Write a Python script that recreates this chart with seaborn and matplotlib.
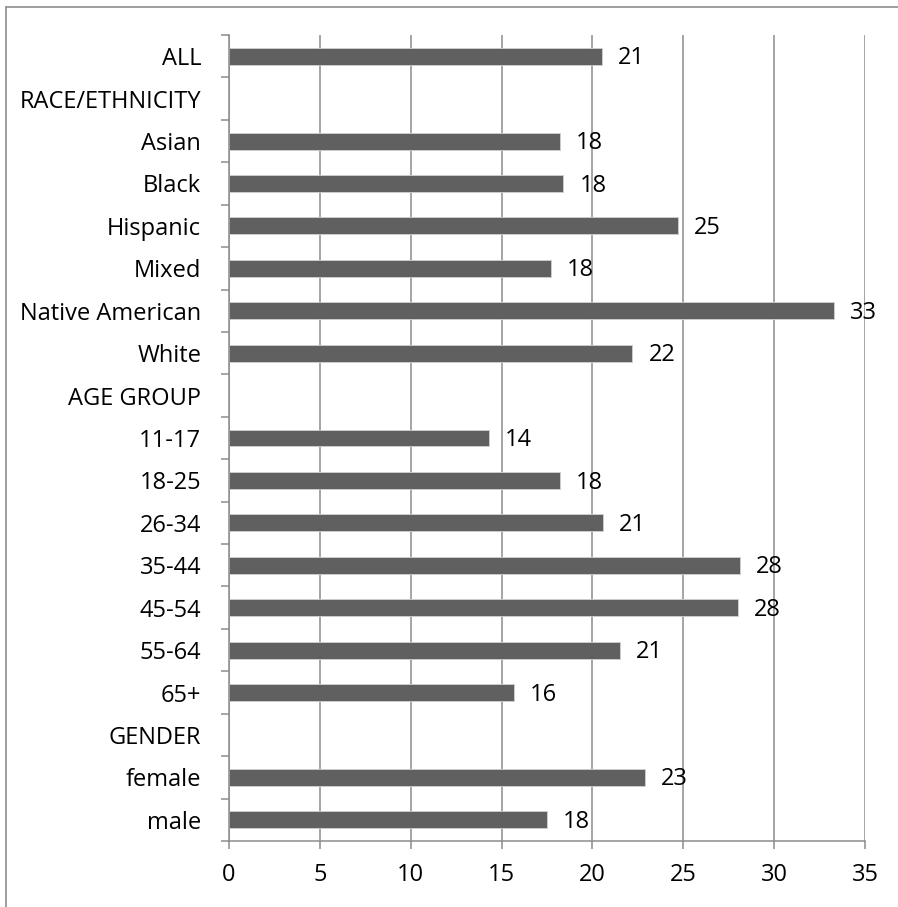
"""
horizontal bar chart: percentages by group (ALL / race / age / gender)
"""
import matplotlib
matplotlib.use('Agg')
import matplotlib.pyplot as plt
from matplotlib.lines import Line2D
from matplotlib.ticker import FixedLocator
import numpy as np
import pandas as pd
import seaborn as sns

sns.set_style('white')
plt.rcParams['font.family'] = ['Open Sans', 'DejaVu Sans']

categories = ['ALL', 'RACE/ETHNICITY', 'Asian', 'Black', 'Hispanic', 'Mixed',
              'Native American', 'White', 'AGE GROUP', '11-17', '18-25', '26-34',
              '35-44', '45-54', '55-64', '65+', 'GENDER', 'female', 'male']
values = [20.5, np.nan, 18.2, 18.4, 24.7, 17.7,
          33.3, 22.2, np.nan, 14.3, 18.2, 20.6,
          28.1, 28.0, 21.5, 15.7, np.nan, 22.9, 17.5]
value_labels = ['21', '', '18', '18', '25', '18',
                '33', '22', '', '14', '18', '21',
                '28', '28', '21', '16', '', '23', '18']
x_ticks = [0, 5, 10, 15, 20, 25, 30, 35]

df = pd.DataFrame({'group': categories, 'value': values})

BAR_COLOR = '#606060'
GRID_COLOR = '#8c8c8c'
FS = 17

fig = plt.figure(figsize=(8.98, 9.07), dpi=100)
ax = fig.add_axes([229 / 898, 66 / 907, 636 / 898, 806 / 907])

sns.barplot(data=df, x='value', y='group', order=categories, orient='h',
            color=BAR_COLOR, saturation=1, width=0.4, ax=ax,
            edgecolor='#d0d0d0', linewidth=0.6)

ax.set_xlim(0, 35)
ax.set_ylim(len(categories) - 0.5, -0.5)
ax.set_xticks(x_ticks)
ax.set_xticklabels([str(t) for t in x_ticks])
ax.set_xlabel('')
ax.set_ylabel('')

# vertical grid only
ax.grid(axis='x', color=GRID_COLOR, linewidth=1.1)
ax.set_axisbelow(True)

for side in ['top', 'right']:
    ax.spines[side].set_visible(False)
for side in ['left', 'bottom']:
    ax.spines[side].set_color(GRID_COLOR)
    ax.spines[side].set_linewidth(1.1)

# y: labels at centres, small tick marks between categories
ax.yaxis.set_minor_locator(FixedLocator(np.arange(-0.5, len(categories), 1.0)))
ax.tick_params(axis='y', which='major', length=0, pad=20, labelsize=FS, labelcolor='black')
ax.tick_params(axis='y', which='minor', length=5.5, width=1.1, color=GRID_COLOR, left=True)
ax.tick_params(axis='x', which='major', length=6, width=1.1, color=GRID_COLOR,
               bottom=True, pad=10, labelsize=FS, labelcolor='black')

# value labels
for i, (v, lab) in enumerate(zip(values, value_labels)):
    if np.isnan(v):
        continue
    ax.annotate(lab, xy=(v, i), xytext=(11.5, -1.5), textcoords='offset points',
                ha='left', va='center', fontsize=FS, color='black')

# outer chart frame (only left and top are inside the image)
fig.add_artist(Line2D([5.5 / 898, 5.5 / 898], [0, 1 - 7 / 907], transform=fig.transFigure,
                      color=GRID_COLOR, linewidth=1.2))
fig.add_artist(Line2D([5.5 / 898, 1], [1 - 7 / 907, 1 - 7 / 907], transform=fig.transFigure,
                      color=GRID_COLOR, linewidth=1.2))

fig.savefig('out.png', dpi=100)
plt.close(fig)
